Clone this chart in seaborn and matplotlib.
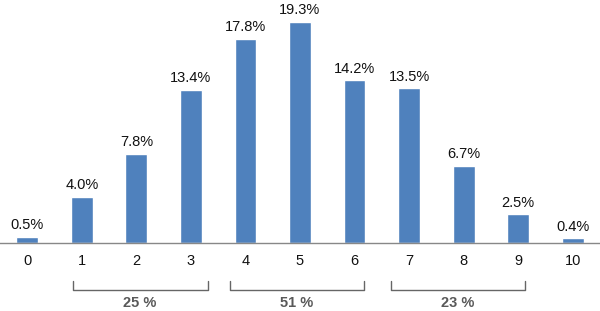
import matplotlib
matplotlib.use("Agg")
import matplotlib.pyplot as plt
import seaborn as sns
import pandas as pd

categories = ["0", "1", "2", "3", "4", "5", "6", "7", "8", "9", "10"]
values = [0.5, 4.0, 7.8, 13.4, 17.8, 19.3, 14.2, 13.5, 6.7, 2.5, 0.4]
group_labels = ["25 %", "51 %", "23 %"]
group_spans = [(0.83, 3.31), (3.71, 6.17), (6.67, 9.13)]

sns.set_theme(style="white")
plt.rcParams["font.family"] = ["Liberation Sans", "DejaVu Sans"]

df = pd.DataFrame({"cat": categories, "val": values})

fig = plt.figure(figsize=(6.0, 3.11), dpi=100)
ax = fig.add_axes([0.0, 0.2186, 1.0, 0.7814])
sns.barplot(data=df, x="cat", y="val", color="#4F81BD", saturation=1, width=0.4, ax=ax)

ax.set_xlim(-0.5, 10.5)
ax.set_ylim(0, 21.22)
for i, v in enumerate(values):
    ax.annotate(f"{v:.1f}%", (i, v), xytext=(0, 3.5), textcoords="offset points",
                ha="center", va="bottom", fontsize=10.5, color="#111111")

for s in ["top", "right", "left"]:
    ax.spines[s].set_visible(False)
ax.spines["bottom"].set_color("#888888")
ax.spines["bottom"].set_linewidth(1.0)
ax.set_yticks([])
ax.set_xlabel("")
ax.set_ylabel("")
ax.tick_params(axis="x", which="major", length=0, pad=8, labelsize=10.5, labelcolor="#111111")
ax.set_xticks([i - 0.5 for i in range(len(categories) + 1)], minor=True)
ax.tick_params(axis="x", which="minor", length=4, color="#888888", width=1.0, direction="out")

trans = ax.get_xaxis_transform()
for (x0, x1), lab in zip(group_spans, group_labels):
    ax.plot([x0, x0, x1, x1], [-0.156, -0.1934, -0.1934, -0.156], transform=trans,
            color="#666666", lw=1.0, clip_on=False)
    ax.text((x0 + x1) / 2, -0.247, lab, transform=trans, ha="center", va="center",
            fontsize=10.5, fontweight="bold", color="#595959")

fig.savefig("out.png", dpi=100)
